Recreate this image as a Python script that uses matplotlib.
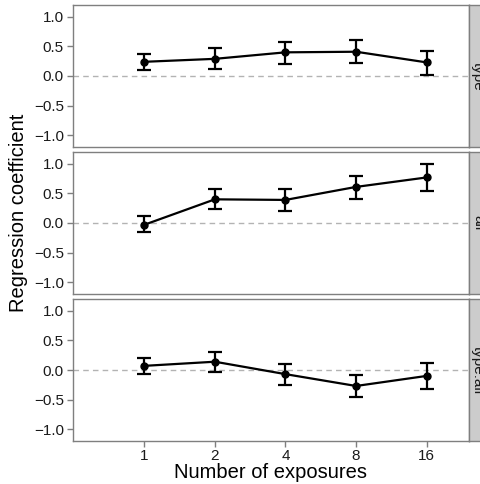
import matplotlib
matplotlib.use("Agg")
import matplotlib.pyplot as plt
import numpy as np

plt.rcParams['font.family'] = ['Liberation Sans', 'DejaVu Sans']

exposures = ["1", "2", "4", "8", "16"]
panels = ["type", "all", "type:all"]
coef_type = [0.24, 0.29, 0.40, 0.41, 0.23]
lo_type = [0.10, 0.12, 0.21, 0.22, 0.02]
hi_type = [0.38, 0.47, 0.57, 0.61, 0.43]
coef_all = [-0.03, 0.40, 0.39, 0.61, 0.77]
lo_all = [-0.16, 0.23, 0.21, 0.41, 0.54]
hi_all = [0.12, 0.57, 0.57, 0.80, 1.00]
coef_int = [0.07, 0.14, -0.07, -0.27, -0.10]
lo_int = [-0.07, -0.03, -0.25, -0.46, -0.32]
hi_int = [0.21, 0.30, 0.10, -0.08, 0.12]

series = [(coef_type, lo_type, hi_type), (coef_all, lo_all, hi_all), (coef_int, lo_int, hi_int)]

W, H = 481, 484
fig = plt.figure(figsize=(W / 100, H / 100), dpi=100)

left, right = 73, 469
strip_w = 18
tops = [5, 152, 299]
ph = 142
border = '#7f7f7f'
tick_fs = 11

x = np.arange(1, len(exposures) + 1)
for i, (name, (c, lo, hi)) in enumerate(zip(panels, series)):
    top = tops[i]
    ax = fig.add_axes([left / W, 1 - (top + ph) / H, (right - left) / W, ph / H])
    c = np.array(c); lo = np.array(lo); hi = np.array(hi)
    ax.axhline(0, color='#b3b3b3', lw=1.0, ls=(0, (4, 3)), zorder=1)
    ax.errorbar(x, c, yerr=[c - lo, hi - c], color='black', lw=1.6, capsize=4.8,
                capthick=1.6, marker='o', ms=5, zorder=3)
    ax.set_xlim(-0.01, 5.6)
    ax.set_ylim(-1.2, 1.2)
    ax.set_yticks([-1.0, -0.5, 0.0, 0.5, 1.0])
    ax.set_yticklabels(["\u22121.0", "\u22120.5", "0.0", "0.5", "1.0"])
    ax.set_xticks(x)
    ax.tick_params(axis='both', colors=border, labelcolor='#1a1a1a', labelsize=tick_fs,
                   length=4, width=1.0, pad=2.5)
    ax.tick_params(axis='x', pad=1.5)
    if i == 2:
        ax.set_xticklabels(exposures)
    else:
        ax.set_xticklabels([])
        ax.tick_params(axis='x', length=0)
    for s in ax.spines.values():
        s.set_color(border)
        s.set_linewidth(1.0)
    # strip
    sax = fig.add_axes([right / W, 1 - (top + ph) / H, strip_w / W, ph / H])
    sax.set_facecolor('#cccccc')
    sax.set_xticks([]); sax.set_yticks([])
    for s in sax.spines.values():
        s.set_color(border)
        s.set_linewidth(1.0)
    sax.text(0.5, 0.5, name, rotation=270, ha='center', va='center',
             fontsize=tick_fs, color='#1a1a1a', transform=sax.transAxes)

fig.text((left + right) / 2 / W, 1 - 478 / H, "Number of exposures", ha='center',
         va='baseline', fontsize=14.5)
fig.text(19 / W, 1 - 213 / H, "Regression coefficient", rotation=90, ha='center',
         va='center', fontsize=14.5)

fig.savefig("out.png", dpi=100)
